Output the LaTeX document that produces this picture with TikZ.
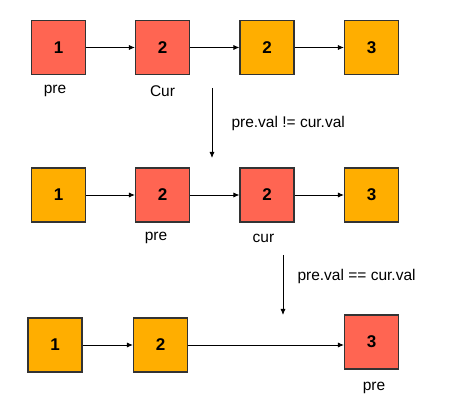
\documentclass[tikz,border=0pt]{standalone}
\usepackage{fontspec}
\setmainfont{Liberation Sans}
\usetikzlibrary{arrows.meta}
\definecolor{redbox}{HTML}{FF6552}
\definecolor{orangebox}{HTML}{FFAE00}

\begin{document}
\begin{tikzpicture}[x=1pt, y=-1pt,
        box/.style={draw=black!80, line width=1.1pt, minimum size=54pt, inner sep=0pt, font=\fontsize{17}{17}\selectfont\bfseries},
        redn/.style={box, fill=redbox},
        orgn/.style={box, fill=orangebox},
        lbl/.style={font=\fontsize{15.5}{16}\selectfont},
        link/.style={line width=0.8pt, -{Latex[length=6pt,width=5pt]}}]
        \useasboundingbox (0,0) rectangle (464,409);
        % first list
        \node[redn] (A1) at (58.5, 47.5) {1}; \node[redn] (A2) at (162.5, 47.5) {2};
        \node[orgn] (A3) at (267, 47.5) {2};  \node[orgn] (A4) at (371.5, 47.5) {3};
        \node[lbl] (Apre) at (55, 91) {pre}; \node[lbl] (Acur) at (162.5, 91) {Cur};
        \draw[link] (A1) to (A2);
        \draw[link] (A2) to (A3);
        \draw[link] (A3) to (A4);
        % step 1
        \coordinate (S1a) at (212, 88); \coordinate (S1b) at (212, 158);
        \draw[link] (S1a) to (S1b);
        \node[lbl, anchor=west] (S1) at (228, 123) {pre.val != cur.val};
        % second list
        \node[orgn] (B1) at (58.5, 195) {1}; \node[redn] (B2) at (162.5, 195) {2};
        \node[redn] (B3) at (267, 195) {2};  \node[orgn] (B4) at (371.5, 195) {3};
        \node[lbl] (Bpre) at (156, 238) {pre}; \node[lbl] (Bcur) at (263.5, 238) {cur};
        \draw[link] (B1) to (B2);
        \draw[link] (B2) to (B3);
        \draw[link] (B3) to (B4);
        % step 2
        \coordinate (S2a) at (283, 255); \coordinate (S2b) at (283, 315);
        \draw[link] (S2a) to (S2b);
        \node[lbl, anchor=west] (S2) at (294, 276) {pre.val == cur.val};
        % third list
        \node[orgn] (C1) at (55, 345) {1}; \node[orgn] (C2) at (160.5, 345) {2};
        \node[redn] (C3) at (371.5, 342) {3};
        \node[lbl] (Cpre) at (374, 388) {pre};
        \draw[link] (C1) to (C2);
        \draw[link] (C2) to (C2 -| C3.west);
    \end{tikzpicture}
\end{document}
